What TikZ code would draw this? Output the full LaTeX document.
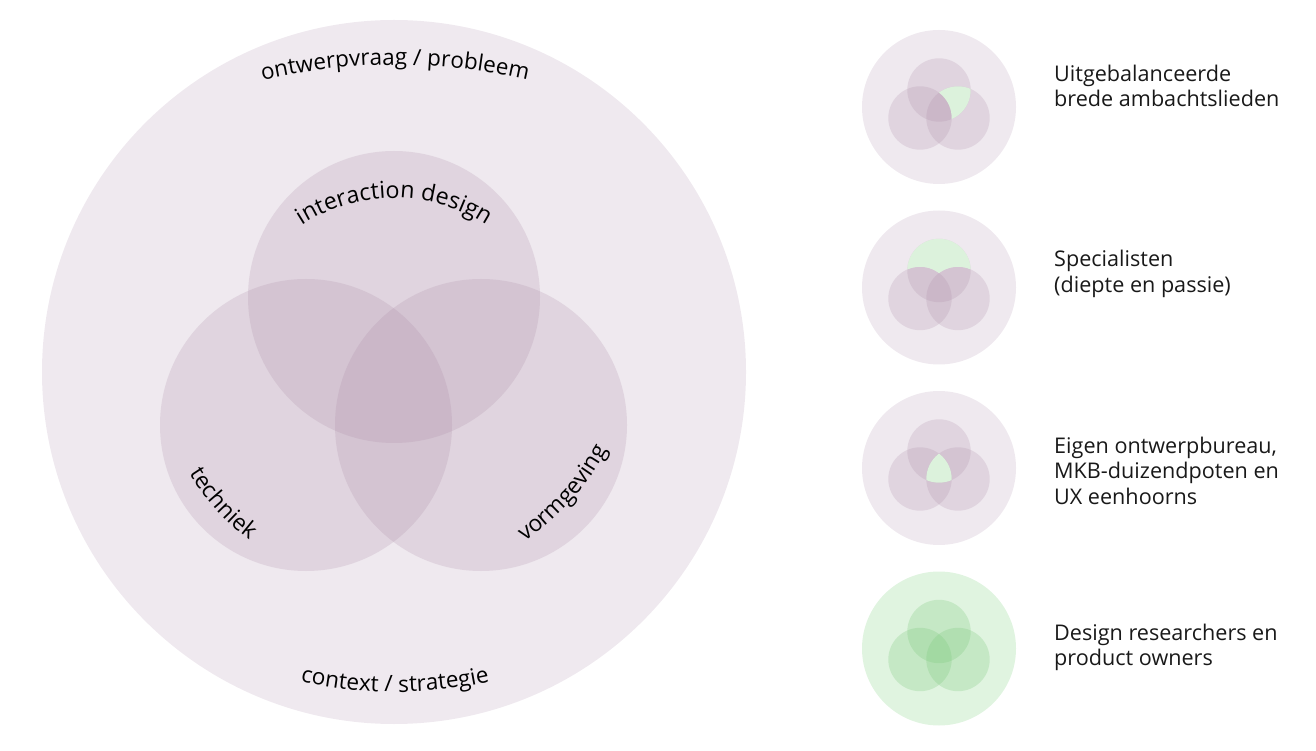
\documentclass[tikz,border=0pt]{standalone}
\usepackage{fontspec}
\setmainfont{Open Sans}
\usetikzlibrary{decorations.text}
\definecolor{bgc}{RGB}{239,233,239}
\definecolor{vennc}{RGB}{170,138,165}
\definecolor{hl}{RGB}{220,242,220}
\definecolor{gbg}{RGB}{224,244,224}
\definecolor{gvenn}{RGB}{120,200,120}
\tikzset{
  vc/.style={fill=vennc, fill opacity=0.21},
  gc/.style={fill=gvenn, fill opacity=0.25},
  lbl/.style={align=left, inner sep=0pt, font=\fontsize{21.6}{25.5}\selectfont, text=black!90},
  arctext/.style 2 args={decorate, decoration={text along path, text align=center,
     text={|\fontsize{#1}{26}\selectfont|#2}}}
}
\begin{document}
\begin{tikzpicture}[x=1pt,y=1pt]
\useasboundingbox (0,0) rectangle (1316,750);
% big diagram
\fill[bgc] (394,378) circle[radius=352];
\fill[vc] (394,453) circle[radius=146];
\fill[vc] (306,325) circle[radius=146];
\fill[vc] (481,325) circle[radius=146];
\path[arctext={22.4}{ontwerpvraag / probleem}] (395,95) ++(115:590) arc[start angle=115, end angle=65, radius=590];
\path[arctext={23.3}{interaction design}] (394,382) ++(145:170) arc[start angle=145, end angle=35, radius=170];
\path[arctext={22.6}{context / strategie}] (395,495) ++(245:437) arc[start angle=245, end angle=295, radius=437];
\path[arctext={22.8}{techniek}] (405,412) ++(200.3:255) arc[start angle=200.3, end angle=244.3, radius=255];
\path[arctext={22.8}{vormgeving}] (382,420) ++(-64:255) arc[start angle=-64, end angle=-20, radius=255];
% small 1
\begin{scope}[shift={(939,643)}]
\fill[bgc] (0,0) circle[radius=77];
\fill[vc] (0,17) circle[radius=31.7];
\fill[vc] (-19,-11) circle[radius=31.7];
\fill[vc] (19,-11) circle[radius=31.7];
\begin{scope}
\clip (0,17) circle[radius=31.7];
\clip (19,-11) circle[radius=31.7];
\clip (-100,100) -- (100,100) -- (100,-100) -- (-100,-100) -- cycle (-19,-11) circle[radius=31.7];
\fill[hl] (-100,-100) rectangle (100,100);
\end{scope}
\end{scope}
% small 2
\begin{scope}[shift={(939,462.5)}]
\fill[bgc] (0,0) circle[radius=77];
\fill[vc] (0,17) circle[radius=31.7];
\fill[vc] (-19,-11) circle[radius=31.7];
\fill[vc] (19,-11) circle[radius=31.7];
\begin{scope}
\clip (0,17) circle[radius=31.7];
\clip (-100,100) -- (100,100) -- (100,-100) -- (-100,-100) -- cycle (-19,-11) circle[radius=31.7];
\clip (-100,100) -- (100,100) -- (100,-100) -- (-100,-100) -- cycle (19,-11) circle[radius=31.7];
\fill[hl] (-100,-100) rectangle (100,100);
\end{scope}
\end{scope}
% small 3
\begin{scope}[shift={(939,282)}]
\fill[bgc] (0,0) circle[radius=77];
\fill[vc] (0,17) circle[radius=31.7];
\fill[vc] (-19,-11) circle[radius=31.7];
\fill[vc] (19,-11) circle[radius=31.7];
\begin{scope}
\clip (0,17) circle[radius=31.7];
\clip (-19,-11) circle[radius=31.7];
\clip (19,-11) circle[radius=31.7];
\fill[hl] (-100,-100) rectangle (100,100);
\end{scope}
\end{scope}
% small 4
\begin{scope}[shift={(939,101.5)}]
\fill[gbg] (0,0) circle[radius=77];
\fill[gc] (0,17) circle[radius=31.7];
\fill[gc] (-19,-11) circle[radius=31.7];
\fill[gc] (19,-11) circle[radius=31.7];
\end{scope}
% labels (anchored at the baseline of the last line)
\node[lbl, anchor=base west] (t1) at (1054,643) {Uitgebalanceerde\\brede ambachtslieden};
\node[lbl, anchor=base west] (t2) at (1054,457.5) {Specialisten\\(diepte en passie)};
\node[lbl, anchor=base west] (t3) at (1054,245.5) {Eigen ontwerpbureau,\\MKB-duizendpoten en\\UX eenhoorns};
\node[lbl, anchor=base west] (t4) at (1054,84.5) {Design researchers en\\product owners};
\end{tikzpicture}
\end{document}
